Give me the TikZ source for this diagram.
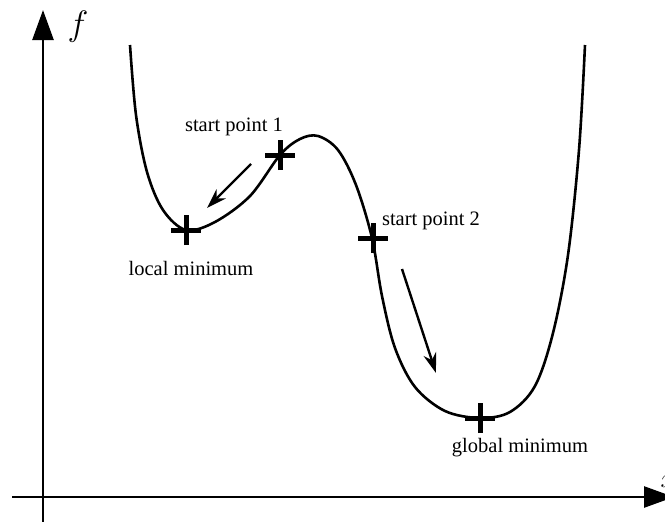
\documentclass[tikz,border=0pt]{standalone}
\usepackage{fontspec}
\setmainfont{Liberation Serif}
\usetikzlibrary{arrows.meta}
\tikzset{
  axis/.style={line width=2.6pt,-{Triangle[length=30pt,width=21pt]}},
  curve/.style={line width=2.6pt},
  lbl/.style={font=\fontsize{20.5}{24}\selectfont,inner sep=0pt},
  cross/.style={line width=5pt},
  move/.style={line width=2.4pt,-{Stealth[length=20pt,width=13pt]}}
}
\begin{document}
\begin{tikzpicture}[x=1pt,y=-1pt]
\useasboundingbox (0,0) rectangle (665,522);
% axes
\coordinate (ybot) at (43,522);
\coordinate (ytop) at (43,10);
\coordinate (xl) at (12,497);
\coordinate (xr) at (674,497);
\draw[axis] (ybot) -- (ytop);
\draw[axis] (xl) -- (xr);
\node[font=\fontsize{20}{24}\selectfont,inner sep=0pt,scale=1.7] (flab) at (78,27) {$f$};
\node[font=\fontsize{20}{24}\selectfont,inner sep=0pt,scale=1.3] (xlab) at (668,482) {$x$};
% curve
\draw[curve] plot[smooth,tension=0.55] coordinates {
 (130,45) (136,115) (147,172) (163,210) (186,230) (215,222) (250,196)
 (280,155) (300,139) (318,136) (338,150) (356,185) (372,238) (382,296)
 (395,348) (415,387) (445,411) (480,418) (510,412) (535,386) (553,333)
 (568,255) (579,150) (585,45)};
% points
\coordinate (lmin) at (186,230);
\coordinate (sp1) at (280,155);
\coordinate (sp2) at (373,238);
\coordinate (gmin) at (480,418);
\foreach \p in {lmin,sp1,sp2,gmin}{
  \draw[cross] ([xshift=-15pt]\p) -- ([xshift=15pt]\p);
  \draw[cross] ([yshift=-15pt]\p) -- ([yshift=15pt]\p);
}
% labels
\node[lbl] (t1) at (234,127) {start point 1};
\node[lbl] (t2) at (191,268) {local minimum};
\node[lbl] (t3) at (431,221) {start point 2};
\node[lbl] (t4) at (520,448) {global minimum};
% arrows
\coordinate (a1s) at (251,164);
\coordinate (a1e) at (207,208);
\coordinate (a2s) at (402,269);
\coordinate (a2e) at (436,373);
\draw[move] (a1s) -- (a1e);
\draw[move] (a2s) -- (a2e);
\end{tikzpicture}
\end{document}
